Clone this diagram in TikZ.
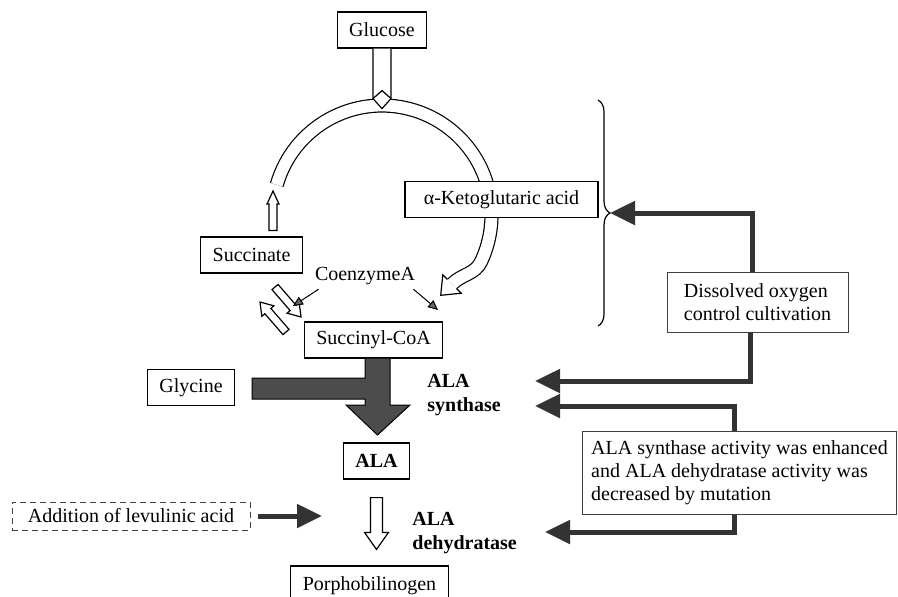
\documentclass[tikz,border=0pt]{standalone}
\usepackage{fontspec}
\setmainfont{Liberation Serif}
\usetikzlibrary{calc,arrows.meta,decorations.pathreplacing}
\tikzstyle{box} = [draw, fill=white, line width=0.6pt, inner xsep=6pt, minimum height=18pt, font=\fontsize{10}{11.5}\selectfont]
\tikzstyle{note} = [draw=black!75, fill=white, line width=0.4pt, align=left, inner xsep=3pt, font=\fontsize{10}{11.5}\selectfont]
\tikzstyle{enzyme} = [align=left, inner sep=0pt, anchor=north west, font=\fontsize{10}{12}\selectfont\bfseries]
\tikzstyle{feedback} = [draw=black!80, line width=2.5pt, -{Triangle[length=12.5pt, width=11.5pt]}]
\tikzstyle{coa} = [draw, line width=0.5pt, -{Triangle[length=5pt, width=4.5pt, fill=black!60]}]
\tikzstyle{ring} = [draw, line width=0.6pt, double=white, double distance=5.9pt]
\tikzset{
  hollow/.style n args={3}{draw, fill=white, line width=0.6pt,
    to path={let \p1=($(\tikztotarget)-(\tikztostart)$), \n1={atan2(\y1,\x1)} in
      ($(\tikztostart)+(\n1+90:#1)$) -- ($(\tikztotarget)+(\n1+180:#3)+(\n1+90:#1)$)
      -- ($(\tikztotarget)+(\n1+180:#3)+(\n1+90:#2)$) -- (\tikztotarget)
      -- ($(\tikztotarget)+(\n1+180:#3)+(\n1-90:#2)$)
      -- ($(\tikztotarget)+(\n1+180:#3)+(\n1-90:#1)$)
      -- ($(\tikztostart)+(\n1-90:#1)$) -- cycle}},
  ringhead/.style={draw, fill=white, line width=0.6pt,
    to path={let \p1=($(\tikztotarget)-(\tikztostart)$), \n1={atan2(\y1,\x1)} in
      ($(\tikztostart)+(\n1+90:3.25pt)$) -- ($(\tikztostart)+(\n1+90:6.5pt)$)
      -- (\tikztotarget) -- ($(\tikztostart)+(\n1-90:6.5pt)$)
      -- ($(\tikztostart)+(\n1-90:3.25pt)$)}}
}

\begin{document}
\begin{tikzpicture}[x=0.5pt, y=0.5pt]
    \useasboundingbox (0,0) rectangle (898,-596);
    \clip (0,0) rectangle (898,-596);
    % cycle ring
    \coordinate (rbase) at (452,-284);
    \coordinate (rtip) at ($(rbase)+(225:16)$);
    \draw[ring] (382,-215) ++(164:109.5) arc[start angle=164, end angle=-25, radius=109.5] to[out=-115, in=45] (rbase);
    \draw[line width=0.6pt, decorate, decoration={brace, amplitude=6pt}] (598,-100) -- (598,-326);
    \coordinate (bt) at (610,-213);
    % nodes
    \node[box] (glu) at (382,-30) {Glucose};
    \node[box, minimum width=96.5pt] (akg) at (501.5,-199.5) {α-Ketoglutaric acid};
    \node[box] (suc) at (251.5,-255) {Succinate};
    \node[box] (scoa) at (373.5,-340) {Succinyl-CoA};
    \node[box] (gly) at (191,-387.5) {Glycine};
    \node[box, font=\fontsize{10}{11.5}\selectfont\bfseries] (ala) at (376.5,-461) {ALA};
    \node[box, minimum width=72.5pt, minimum height=20pt] (pbg) at (369.5,-586) {Porphobilinogen};
    \node[box, draw=black!75, densely dashed, line width=0.4pt, minimum width=119pt, minimum height=14pt] (lev) at (131,-516) {Addition of levulinic acid};
    \node[note, minimum width=90.5pt, minimum height=30pt] (dox) at (757.5,-302) {Dissolved oxygen\\control cultivation};
    \node[note, minimum width=157pt, minimum height=41.5pt] (act) at (739.5,-473) {ALA synthase activity was enhanced\\and ALA dehydratase activity was\\decreased by mutation};
    \node[inner sep=2pt, font=\fontsize{10}{11.5}\selectfont] (coa) at (365,-276) {CoenzymeA};
    \node[enzyme] (syn) at (427,-374) {ALA\\synthase};
    \node[enzyme] (dehyd) at (412,-512) {ALA\\dehydratase};
    % glucose into the cycle
    \filldraw[fill=white, line width=0.6pt] ([xshift=-4.5pt]glu.south) -- ++(0,-50) -- ++(9,-10) -- ++(9,10) -- ([xshift=4.5pt]glu.south);
    \draw[line width=0.6pt] ([xshift=-4.5pt, yshift=-25pt]glu.south) -- ++(9,8) -- ++(9,-8);
    \draw[ringhead] (rbase) to (rtip);
    % hollow arrows
    \coordinate (rend) at (273,-191);
    \coordinate (a1) at (275,-287);
    \coordinate (a2) at (301,-317);
    \coordinate (b1) at (286,-332);
    \coordinate (b2) at (260,-302);
    \coordinate (p1) at ([yshift=-9pt]ala.south);
    \coordinate (p2) at ([yshift=8pt]pbg.north -| p1);
    \draw[hollow={2pt}{3pt}{6.5pt}] ([yshift=3pt]suc.north -| rend) to (rend);
    \draw[hollow={2pt}{4pt}{6pt}] (a1) to (a2);
    \draw[hollow={2pt}{4pt}{6pt}] (b1) to (b2);
    \draw[hollow={3pt}{6pt}{8.5pt}] (p1) to (p2);
    % coenzyme A
    \coordinate (c1) at (293,-306);
    \coordinate (c2) at (438,-310);
    \draw[coa] ([xshift=4pt]coa.south west) -- (c1);
    \draw[coa] ([xshift=-3pt]coa.south east) -- (c2);
    % glycine + succinyl-CoA -> ALA
    \filldraw[fill=black!70, draw=black, line width=0.5pt] (252,-378) -- (365,-378) -- (365,-358) -- (390,-358) -- (390,-405) -- (410,-405)
        -- (377.5,-435) -- (346,-405) -- (365,-405) -- (365,-399) -- (252,-399) -- cycle;
    % control arrows
    \coordinate (t1) at (535,-381);
    \coordinate (t2) at (535,-406);
    \coordinate (t3) at (545,-532);
    \coordinate (t4) at (322,-516);
    \draw[feedback] ([xshift=-2.5pt]dox.north) |- (bt);
    \draw[feedback] ([xshift=-3.5pt]dox.south) |- (t1);
    \draw[feedback] ([xshift=-2.75pt]act.north) |- (t2);
    \draw[feedback] ([xshift=-2.75pt]act.south) |- (t3);
    \draw[feedback] ([xshift=4pt]lev.east) -- (t4);
\end{tikzpicture}
\end{document}
